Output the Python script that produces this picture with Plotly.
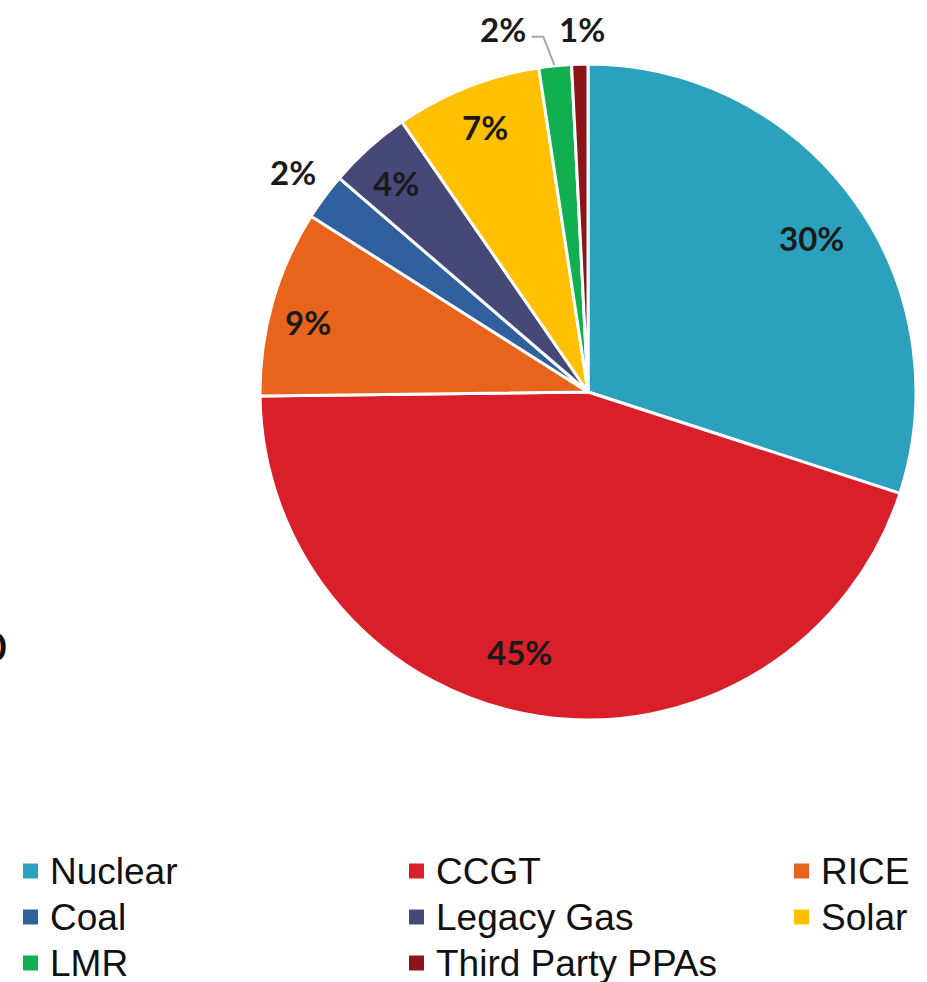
import plotly.graph_objects as go

# ---- data ----
categories = ["Nuclear", "CCGT", "RICE", "Coal", "Legacy Gas", "Solar", "LMR", "Third Party PPAs"]
shares = [30.0, 44.8, 9.2, 2.3, 4.1, 7.2, 1.6, 0.8]

# ---- style ----
colors = ["#2CA1BE", "#D91F2A", "#E8641C", "#31609F", "#464878", "#FEC000", "#11AF4F", "#8B1518"]
W, H = 927, 982
CX, CY, R = 588, 392, 328

def px(x):
    return x / W

def py(y):
    return 1 - y / H

# label centres (pixel positions), one per category
label_pos = [(811, 238), (519, 652), (308, 322), (293, 172), (396, 183), (485, 127), (503, 29), (582, 29)]

# legend grid (3 columns, row-major)
leg_col_x = [23, 409, 794]
leg_row_y = [871, 917, 963]
SW = 15  # swatch size
TEXT_GAP = 11

fig = go.Figure(
    go.Pie(
        labels=categories,
        values=shares,
        sort=False,
        direction="clockwise",
        rotation=0,
        marker=dict(colors=colors, line=dict(color="white", width=3)),
        textinfo="none",
        hoverinfo="label+percent",
        showlegend=False,
        domain=dict(x=[px(CX - R), px(CX + R)], y=[py(CY + R), py(CY - R)]),
    )
)

total = sum(shares)
annotations = []
for (x, y), v in zip(label_pos, shares):
    annotations.append(
        dict(
            x=px(x), y=py(y), xref="paper", yref="paper",
            text=f"{round(v / total * 100)}%", showarrow=False,
            xanchor="center", yanchor="middle",
            font=dict(family="Lato", size=33, color="#1A1A1A", weight="bold"),
        )
    )

# cut-off character at left edge
annotations.append(
    dict(x=px(8), y=py(646), xref="paper", yref="paper", text="0", showarrow=False,
         xanchor="right", yanchor="middle", borderpad=0,
         font=dict(family="Lato", size=39, color="#111111", weight="bold"))
)

# manual legend
for i, (name, col) in enumerate(zip(categories, colors)):
    cx = leg_col_x[i % 3]
    cy = leg_row_y[i // 3]
    fig.add_shape(
        type="rect", xref="paper", yref="paper",
        x0=px(cx), x1=px(cx + SW), y0=py(cy + SW / 2), y1=py(cy - SW / 2),
        fillcolor=col, line=dict(width=0),
    )
    annotations.append(
        dict(x=px(cx + SW + TEXT_GAP), y=py(cy), xref="paper", yref="paper",
             text=name, showarrow=False, xanchor="left", yanchor="middle",
             borderpad=0,
             font=dict(family="Liberation Sans, Arial", size=37, color="#111111"))
    )

# leader line for the LMR label
fig.add_shape(
    type="path", xref="paper", yref="paper",
    path=f"M{px(531.7)},{py(36.7)} L{px(543.3)},{py(36.7)} L{px(554.3)},{py(65)}",
    line=dict(color="#A6A6A6", width=2),
)

fig.update_layout(
    width=W, height=H,
    margin=dict(l=0, r=0, t=0, b=0, autoexpand=False),
    paper_bgcolor="white", plot_bgcolor="white",
    annotations=annotations,
    showlegend=False,
)

fig.write_html(
    "out.html",
    config={"displayModeBar": False},
    post_script="document.body.style.margin='0';",
)
